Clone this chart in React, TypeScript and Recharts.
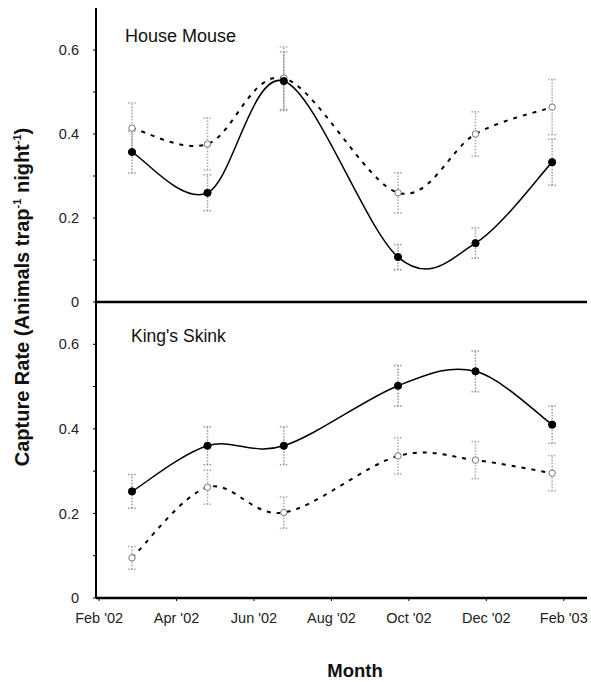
import { LineChart, Line, XAxis, YAxis, ErrorBar } from 'recharts'

// sample months, counted from Feb '02 (0) to Feb '03 (12)
const months = [0.85, 2.8, 4.77, 7.72, 9.72, 11.7]
const monthTicks = [0, 2, 4, 6, 8, 10, 12]
const monthLabels = ["Feb '02", "Apr '02", "Jun '02", "Aug '02", "Oct '02", "Dec '02", "Feb '03"]
const rateTicks = [0, 0.1, 0.2, 0.3, 0.4, 0.5, 0.6]

const mouseFilled = [0.357, 0.26, 0.526, 0.107, 0.14, 0.333]
const mouseFilledErr = [0.05, 0.043, 0.07, 0.03, 0.036, 0.055]
const mouseOpen = [0.414, 0.376, 0.533, 0.26, 0.4, 0.464]
const mouseOpenErr = [0.06, 0.062, 0.074, 0.048, 0.053, 0.066]

const skinkFilled = [0.252, 0.36, 0.36, 0.502, 0.536, 0.41]
const skinkFilledErr = [0.04, 0.045, 0.045, 0.048, 0.048, 0.044]
const skinkOpen = [0.095, 0.262, 0.202, 0.336, 0.326, 0.295]
const skinkOpenErr = [0.027, 0.04, 0.037, 0.043, 0.044, 0.042]

const buildRows = (a: number[], aErr: number[], b: number[], bErr: number[]) =>
  months.map((m, i) => ({ m, a: a[i], aErr: aErr[i], b: b[i], bErr: bErr[i] }))

const mouseRows = buildRows(mouseFilled, mouseFilledErr, mouseOpen, mouseOpenErr)
const skinkRows = buildRows(skinkFilled, skinkFilledErr, skinkOpen, skinkOpenErr)

const FONT = 'Arial, "Liberation Sans", Helvetica, sans-serif'

// smooth line through the points (Catmull-Rom style, like a spreadsheet's smoothed line)
const smoothCurve = (context: any) => {
  let pts: [number, number][] = []
  return {
    areaStart() {},
    areaEnd() {},
    lineStart() {
      pts = []
    },
    point(x: number, y: number) {
      pts.push([+x, +y])
    },
    lineEnd() {
      if (!pts.length) return
      context.moveTo(pts[0][0], pts[0][1])
      for (let i = 0; i < pts.length - 1; i++) {
        const p0 = pts[Math.max(i - 1, 0)]
        const p1 = pts[i]
        const p2 = pts[i + 1]
        const p3 = pts[Math.min(i + 2, pts.length - 1)]
        context.bezierCurveTo(
          p1[0] + (p2[0] - p0[0]) / 6,
          p1[1] + (p2[1] - p0[1]) / 6,
          p2[0] - (p3[0] - p1[0]) / 6,
          p2[1] - (p3[1] - p1[1]) / 6,
          p2[0],
          p2[1],
        )
      }
    },
  }
}

const fmtRate = (v: number) => {
  const k = Math.round(v * 10)
  if (k % 2 !== 0) return ''
  return k === 0 ? '0' : v.toFixed(1)
}

const fmtMonth = (v: number) => monthLabels[monthTicks.indexOf(v)] ?? ''

function Panel({ rows, showTicks }: { rows: typeof mouseRows; showTicks: boolean }) {
  return (
    <LineChart
      width={591}
      height={showTicks ? 388 : 322}
      data={rows}
      margin={{ top: 8, right: 4, bottom: 0, left: 0 }}
    >
      <XAxis
        dataKey="m"
        type="number"
        domain={[-0.08, 12.6]}
        ticks={monthTicks}
        allowDataOverflow
        height={showTicks ? 84 : 20}
        tick={showTicks ? { fontSize: 14.5, fill: '#222', fontFamily: FONT } : false}
        tickFormatter={fmtMonth}
        tickSize={3}
        tickMargin={12}
        axisLine={{ stroke: '#000', strokeWidth: 2.5 }}
        tickLine={{ stroke: '#000' }}
      />
      <YAxis
        type="number"
        domain={[0, 0.7]}
        ticks={rateTicks}
        interval={0}
        width={96}
        tickFormatter={fmtRate}
        tick={{ fontSize: 14.5, fill: '#222', fontFamily: FONT }}
        tickSize={3}
        tickMargin={14}
        axisLine={{ stroke: '#000', strokeWidth: 2 }}
        tickLine={{ stroke: '#000' }}
      />
      <Line
        dataKey="b"
        type={smoothCurve as any}
        stroke="#000"
        strokeWidth={2}
        strokeDasharray="4 6"
        dot={{ r: 3.2, fill: '#fff', stroke: '#777', strokeWidth: 1, strokeDasharray: '' }}
        isAnimationActive={false}
      >
        <ErrorBar dataKey="bErr" direction="y" width={4} stroke="#aaa" strokeDasharray="1.5 1.5" />
      </Line>
      <Line
        dataKey="a"
        type={smoothCurve as any}
        stroke="#000"
        strokeWidth={1.5}
        dot={{ r: 3.6, fill: '#000', stroke: '#000', strokeWidth: 1 }}
        isAnimationActive={false}
      >
        <ErrorBar dataKey="aErr" direction="y" width={4} stroke="#999" strokeDasharray="1.5 1.5" />
      </Line>
    </LineChart>
  )
}

export default function App() {
  return (
    <div style={{ position: 'absolute', left: 0, top: 0, width: 591, height: 682, background: '#fff' }}>
      <div style={{ position: 'absolute', left: 0, top: 294 }}>
        <Panel rows={skinkRows} showTicks />
      </div>
      <div style={{ position: 'absolute', left: 0, top: 0 }}>
        <Panel rows={mouseRows} showTicks={false} />
      </div>
      <svg
        width={591}
        height={682}
        style={{ position: 'absolute', left: 0, top: 0, pointerEvents: 'none' }}
        fontFamily={FONT}
      >
        <text x={125} y={42} fontSize={18} fill="#111">House Mouse</text>
        <text x={131} y={342} fontSize={17.5} fill="#111">King's Skink</text>
        <text x={355} y={677} fontSize={18.5} fontWeight="bold" textAnchor="middle" fill="#111">Month</text>
        <text
          transform="translate(29,297) rotate(-90)"
          fontSize={20}
          fontWeight="bold"
          textAnchor="middle"
          fill="#111"
        >
          Capture Rate (Animals trap
          <tspan fontSize={11} dy={-8}>-1</tspan>
          <tspan dy={8}> night</tspan>
          <tspan fontSize={11} dy={-8}>-1</tspan>
          <tspan dy={8}>)</tspan>
        </text>
      </svg>
    </div>
  )
}
